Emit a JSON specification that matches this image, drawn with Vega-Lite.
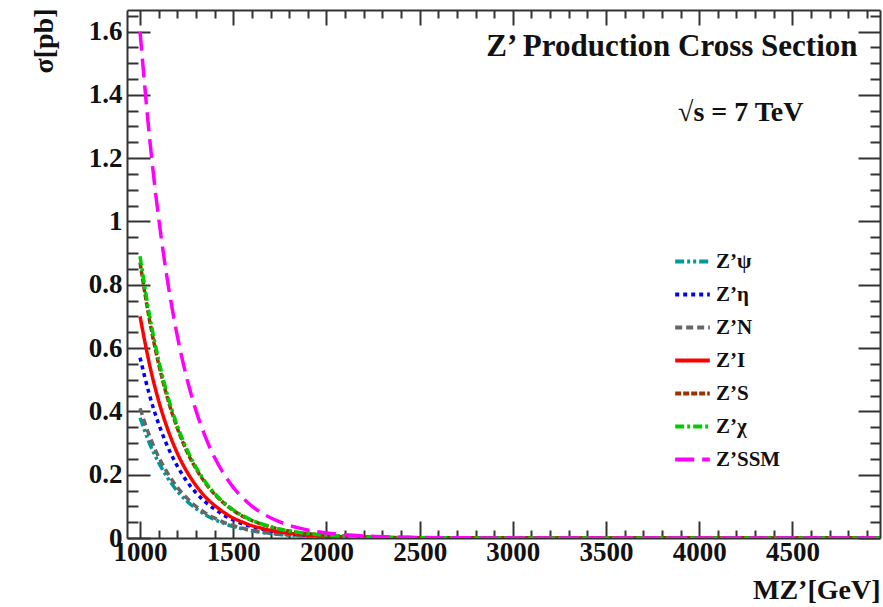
{
  "$schema": "https://vega.github.io/schema/vega-lite/v6.json",
  "width": 753,
  "height": 528,
  "autosize": {"type": "none"},
  "padding": {"left": 127, "top": 10, "right": 3, "bottom": 69},
  "background": "white",
  "config": {"view": {"stroke": null}, "font": "Liberation Serif"},
  "data": {
    "values": [
      {"M": 1000, "psi": 0.380, "eta": 0.570, "N": 0.410, "I": 0.700, "S": 0.870, "chi": 0.890, "SSM": 1.600},
      {"M": 1050, "psi": 0.300, "eta": 0.453, "N": 0.324, "I": 0.551, "S": 0.691, "chi": 0.707, "SSM": 1.271},
      {"M": 1100, "psi": 0.238, "eta": 0.360, "N": 0.256, "I": 0.433, "S": 0.549, "chi": 0.562, "SSM": 1.010},
      {"M": 1150, "psi": 0.188, "eta": 0.286, "N": 0.203, "I": 0.341, "S": 0.436, "chi": 0.446, "SSM": 0.803},
      {"M": 1200, "psi": 0.148, "eta": 0.227, "N": 0.160, "I": 0.268, "S": 0.347, "chi": 0.355, "SSM": 0.638},
      {"M": 1250, "psi": 0.117, "eta": 0.180, "N": 0.127, "I": 0.211, "S": 0.275, "chi": 0.282, "SSM": 0.507},
      {"M": 1300, "psi": 0.093, "eta": 0.143, "N": 0.100, "I": 0.166, "S": 0.219, "chi": 0.224, "SSM": 0.403},
      {"M": 1350, "psi": 0.073, "eta": 0.114, "N": 0.079, "I": 0.130, "S": 0.174, "chi": 0.178, "SSM": 0.320},
      {"M": 1400, "psi": 0.058, "eta": 0.091, "N": 0.063, "I": 0.103, "S": 0.138, "chi": 0.141, "SSM": 0.254},
      {"M": 1450, "psi": 0.046, "eta": 0.072, "N": 0.049, "I": 0.081, "S": 0.110, "chi": 0.112, "SSM": 0.202},
      {"M": 1500, "psi": 0.036, "eta": 0.057, "N": 0.039, "I": 0.063, "S": 0.087, "chi": 0.089, "SSM": 0.160},
      {"M": 1550, "psi": 0.029, "eta": 0.045, "N": 0.031, "I": 0.050, "S": 0.069, "chi": 0.071, "SSM": 0.128},
      {"M": 1600, "psi": 0.023, "eta": 0.036, "N": 0.024, "I": 0.039, "S": 0.055, "chi": 0.056, "SSM": 0.101},
      {"M": 1650, "psi": 0.018, "eta": 0.029, "N": 0.019, "I": 0.031, "S": 0.044, "chi": 0.045, "SSM": 0.080},
      {"M": 1700, "psi": 0.014, "eta": 0.023, "N": 0.015, "I": 0.024, "S": 0.035, "chi": 0.036, "SSM": 0.064},
      {"M": 1750, "psi": 0.011, "eta": 0.018, "N": 0.012, "I": 0.019, "S": 0.028, "chi": 0.028, "SSM": 0.051},
      {"M": 1800, "psi": 0.009, "eta": 0.014, "N": 0.010, "I": 0.015, "S": 0.022, "chi": 0.022, "SSM": 0.040},
      {"M": 1850, "psi": 0.007, "eta": 0.011, "N": 0.008, "I": 0.012, "S": 0.017, "chi": 0.018, "SSM": 0.032},
      {"M": 1900, "psi": 0.006, "eta": 0.009, "N": 0.006, "I": 0.009, "S": 0.014, "chi": 0.014, "SSM": 0.025},
      {"M": 1950, "psi": 0.004, "eta": 0.007, "N": 0.005, "I": 0.007, "S": 0.011, "chi": 0.011, "SSM": 0.020},
      {"M": 2000, "psi": 0.003, "eta": 0.006, "N": 0.004, "I": 0.006, "S": 0.009, "chi": 0.009, "SSM": 0.016},
      {"M": 2100, "psi": 0.0019, "eta": 0.0036, "N": 0.0025, "I": 0.0037, "S": 0.0055, "chi": 0.0057, "SSM": 0.0101},
      {"M": 2200, "psi": 0.0012, "eta": 0.0023, "N": 0.0016, "I": 0.0023, "S": 0.0035, "chi": 0.0036, "SSM": 0.0064},
      {"M": 2300, "psi": 0.0008, "eta": 0.0014, "N": 0.0010, "I": 0.0014, "S": 0.0022, "chi": 0.0023, "SSM": 0.0040},
      {"M": 2500, "psi": 0.0003, "eta": 0.0006, "N": 0.0004, "I": 0.0005, "S": 0.0009, "chi": 0.0009, "SSM": 0.0016},
      {"M": 2750, "psi": 0.0001, "eta": 0.0002, "N": 0.00012, "I": 0.00017, "S": 0.0003, "chi": 0.0003, "SSM": 0.0005},
      {"M": 3000, "psi": 0.00003, "eta": 0.00006, "N": 0.00004, "I": 0.00005, "S": 0.0001, "chi": 0.0001, "SSM": 0.0002},
      {"M": 3500, "psi": 0.000005, "eta": 0.00001, "N": 0.000006, "I": 0.000008, "S": 0.00002, "chi": 0.00002, "SSM": 0.00003},
      {"M": 4000, "psi": 0.000001, "eta": 0.000002, "N": 0.000001, "I": 0.000001, "S": 0.000003, "chi": 0.000003, "SSM": 0.000005},
      {"M": 4500, "psi": 0.0000002, "eta": 0.0000003, "N": 0.0000002, "I": 0.0000002, "S": 0.0000005, "chi": 0.0000005, "SSM": 0.000001},
      {"M": 4970, "psi": 0.00000004, "eta": 0.00000006, "N": 0.00000004, "I": 0.00000004, "S": 0.0000001, "chi": 0.0000001, "SSM": 0.0000002}
    ]
  },
  "transform": [
    {"fold": ["psi", "eta", "N", "I", "S", "chi", "SSM"], "as": ["model", "sigma"]}
  ],
  "layer": [
    {
      "mark": {"type": "line", "strokeWidth": 3.5, "clip": true, "interpolate": "monotone"},
      "encoding": {
        "x": {
          "field": "M",
          "type": "quantitative",
          "scale": {"domain": [930, 4970], "nice": false, "zero": false},
          "axis": {
            "orient": "bottom",
            "values": [1000, 1100, 1200, 1300, 1400, 1500, 1600, 1700, 1800, 1900, 2000, 2100, 2200, 2300, 2400, 2500, 2600, 2700, 2800, 2900, 3000, 3100, 3200, 3300, 3400, 3500, 3600, 3700, 3800, 3900, 4000, 4100, 4200, 4300, 4400, 4500, 4600, 4700, 4800, 4900],
            "labelExpr": "datum.value % 500 === 0 ? format(datum.value, 'd') : ''",
            "tickSize": {"condition": {"test": "datum.value % 500 === 0", "value": -17}, "value": -8},
            "labelPadding": 18,
            "tickColor": "#333333",
            "tickWidth": 2,
            "domainColor": "#333333",
            "domainWidth": 2,
            "grid": false,
            "labelFont": "Liberation Serif",
            "labelFontWeight": "bold",
            "labelFontSize": 27,
            "labelColor": "#111111",
            "labelFlush": false,
            "labelOverlap": false,
            "title": "MZ’[GeV]",
            "titleFont": "Liberation Serif",
            "titleFontWeight": "bold",
            "titleFontSize": 28,
            "titleColor": "#111111",
            "titleAlign": "right",
            "titleAnchor": "end",
            "titleBaseline": "alphabetic",
            "titleX": 753,
            "titleY": 60
          }
        },
        "y": {
          "field": "sigma",
          "type": "quantitative",
          "scale": {"domain": [0, 1.668], "nice": false},
          "axis": {
            "orient": "left",
            "values": [0, 0.05, 0.1, 0.15, 0.2, 0.25, 0.3, 0.35, 0.4, 0.45, 0.5, 0.55, 0.6, 0.65, 0.7, 0.75, 0.8, 0.85, 0.9, 0.95, 1, 1.05, 1.1, 1.15, 1.2, 1.25, 1.3, 1.35, 1.4, 1.45, 1.5, 1.55, 1.6, 1.65],
            "labelExpr": "round(datum.value * 100) % 20 === 0 ? format(datum.value, '.1~f') : ''",
            "tickSize": {"condition": {"test": "round(datum.value * 100) % 20 === 0", "value": -23}, "value": -11},
            "labelPadding": 28,
            "tickColor": "#333333",
            "tickWidth": 2,
            "domainColor": "#333333",
            "domainWidth": 2,
            "grid": false,
            "labelFont": "Liberation Serif",
            "labelFontWeight": "bold",
            "labelFontSize": 27,
            "labelColor": "#111111",
            "labelFlush": false,
            "labelOverlap": false,
            "title": "σ[pb]",
            "titleFont": "Liberation Serif",
            "titleFontWeight": "bold",
            "titleFontSize": 28,
            "titleColor": "#111111",
            "titleAngle": 270,
            "titleAlign": "right",
            "titleBaseline": "alphabetic",
            "titleX": -75,
            "titleY": -2
          }
        },
        "color": {
          "field": "model",
          "type": "nominal",
          "scale": {
            "domain": ["psi", "eta", "N", "I", "S", "chi", "SSM"],
            "range": ["#00999a", "#0000ff", "#666666", "#ff0000", "#993300", "#00cc00", "#ff00ff"]
          },
          "legend": {
            "orient": "none",
            "legendX": 546,
            "legendY": 232,
            "title": null,
            "symbolType": "stroke",
            "symbolSize": 1200,
            "symbolStrokeWidth": 4,
            "rowPadding": 3,
            "labelOffset": 4,
            "labelFont": "Liberation Serif",
            "labelFontWeight": "bold",
            "labelFontSize": 21,
            "labelColor": "#111111",
            "labelExpr": "{'psi': 'Z’ψ', 'eta': 'Z’η', 'N': 'Z’N', 'I': 'Z’I', 'S': 'Z’S', 'chi': 'Z’χ', 'SSM': 'Z’SSM'}[datum.label]"
          }
        },
        "strokeDash": {
          "field": "model",
          "type": "nominal",
          "scale": {
            "domain": ["psi", "eta", "N", "I", "S", "chi", "SSM"],
            "range": [[9, 3, 3, 3, 3, 3], [4, 4], [7, 4], [1, 0], [6, 2], [9, 3, 3, 3], [19, 8]]
          }
        }
      }
    },
    {
      "mark": {"type": "point", "opacity": 0},
      "encoding": {
        "x": {
          "field": "M",
          "type": "quantitative",
          "axis": {
            "orient": "top",
            "values": [1000, 1100, 1200, 1300, 1400, 1500, 1600, 1700, 1800, 1900, 2000, 2100, 2200, 2300, 2400, 2500, 2600, 2700, 2800, 2900, 3000, 3100, 3200, 3300, 3400, 3500, 3600, 3700, 3800, 3900, 4000, 4100, 4200, 4300, 4400, 4500, 4600, 4700, 4800, 4900],
            "labels": false,
            "grid": false,
            "tickSize": {"condition": {"test": "datum.value % 500 === 0", "value": -15}, "value": -8},
            "tickColor": "#333333",
            "tickWidth": 2,
            "domainColor": "#333333",
            "domainWidth": 2,
            "title": "√s = 7 TeV",
            "titleFont": "Liberation Serif",
            "titleFontWeight": "bold",
            "titleFontSize": 28,
            "titleColor": "#111111",
            "titleAngle": 0,
            "titleAlign": "right",
            "titleBaseline": "alphabetic",
            "titleX": 676,
            "titleY": 110
          }
        },
        "y": {
          "field": "sigma",
          "type": "quantitative",
          "axis": {
            "orient": "right",
            "values": [0, 0.05, 0.1, 0.15, 0.2, 0.25, 0.3, 0.35, 0.4, 0.45, 0.5, 0.55, 0.6, 0.65, 0.7, 0.75, 0.8, 0.85, 0.9, 0.95, 1, 1.05, 1.1, 1.15, 1.2, 1.25, 1.3, 1.35, 1.4, 1.45, 1.5, 1.55, 1.6, 1.65],
            "labels": false,
            "grid": false,
            "tickSize": {"condition": {"test": "round(datum.value * 100) % 20 === 0", "value": -22}, "value": -10},
            "tickColor": "#333333",
            "tickWidth": 2,
            "domainColor": "#333333",
            "domainWidth": 2,
            "title": "Z’ Production Cross Section",
            "titleFont": "Liberation Serif",
            "titleFontWeight": "bold",
            "titleFontSize": 31,
            "titleColor": "#111111",
            "titleAngle": 0,
            "titleAlign": "right",
            "titleBaseline": "alphabetic",
            "titleX": -23,
            "titleY": 45
          }
        }
      }
    }
  ],
  "resolve": {"axis": {"x": "independent", "y": "independent"}}
}
